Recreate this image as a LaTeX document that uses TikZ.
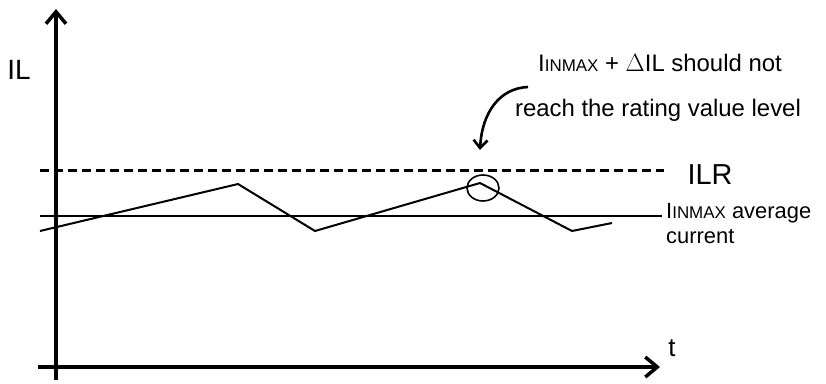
\documentclass[tikz,border=0pt]{standalone}
\usepackage{fontspec}
\setmainfont{Liberation Sans}
\usetikzlibrary{arrows.meta}
\def\inmax{I{\fontsize{17}{20}\selectfont INMAX}}
\def\fs#1{\fontsize{#1}{#1}\selectfont}

\begin{document}
\begin{tikzpicture}[x=1bp,y=-1bp]
		\useasboundingbox (0,0) rectangle (826,383);
		%%%%% START %%%%%
		
		\coordinate (ybot) at (56,380);
		\coordinate (ytop) at (56,9);
		\coordinate (xleft) at (38,367);
		\coordinate (xright) at (660,367);
		\draw[line width=3.5bp, -{Straight Barb[length=12bp,width=20bp]}] (ybot) -- (ytop);
		\draw[line width=3.5bp, -{Straight Barb[length=12bp,width=20bp]}] (xleft) -- (xright);
		\node (il) at (19,70) {\fs{28}IL};
		\node (t) at (672,348) {\fs{26}t};
		
		\coordinate (rl) at (40,170);
		\coordinate (rr) at (664,170);
		\draw[line width=3bp, dash pattern=on 9bp off 5bp] (rl) -- (rr);
		\node (ilr) at (710,175) {\fs{29}ILR};
		
		\coordinate (al) at (40,216);
		\coordinate (ar) at (662,216);
		\draw[line width=2bp] (al) -- (ar);
		\node[anchor=west, inner sep=1bp] (avg) at (665,213) {\fs{22}\inmax{} average};
		\node[anchor=west, inner sep=1bp] (cur) at (665,237) {\fs{22}current};
		
		\foreach \n/\x/\y in {0/40/231,1/238/184,2/315/231,3/480/183,4/572/231,5/612/223}
			\coordinate (w\n) at (\x,\y);
		\draw[line width=2bp] (w0) -- (w1) -- (w2) -- (w3) -- (w4) -- (w5);
		\draw[line width=1.6bp] (483,188) ellipse (16 and 13);
		
		\node (note1) at (660,63) {\fs{24}\inmax{} + $\Delta$IL should not};
		\node (note2) at (658,110) {\fs{24}reach the rating value level};
		\coordinate (ctip) at (480,150);
		\draw[line width=2.6bp, -{Straight Barb[length=8bp,width=14bp]}] (528,87) .. controls (500,88) and (482,112) .. (ctip);
		
		%%%%% END %%%%%
	\end{tikzpicture}
\end{document}
